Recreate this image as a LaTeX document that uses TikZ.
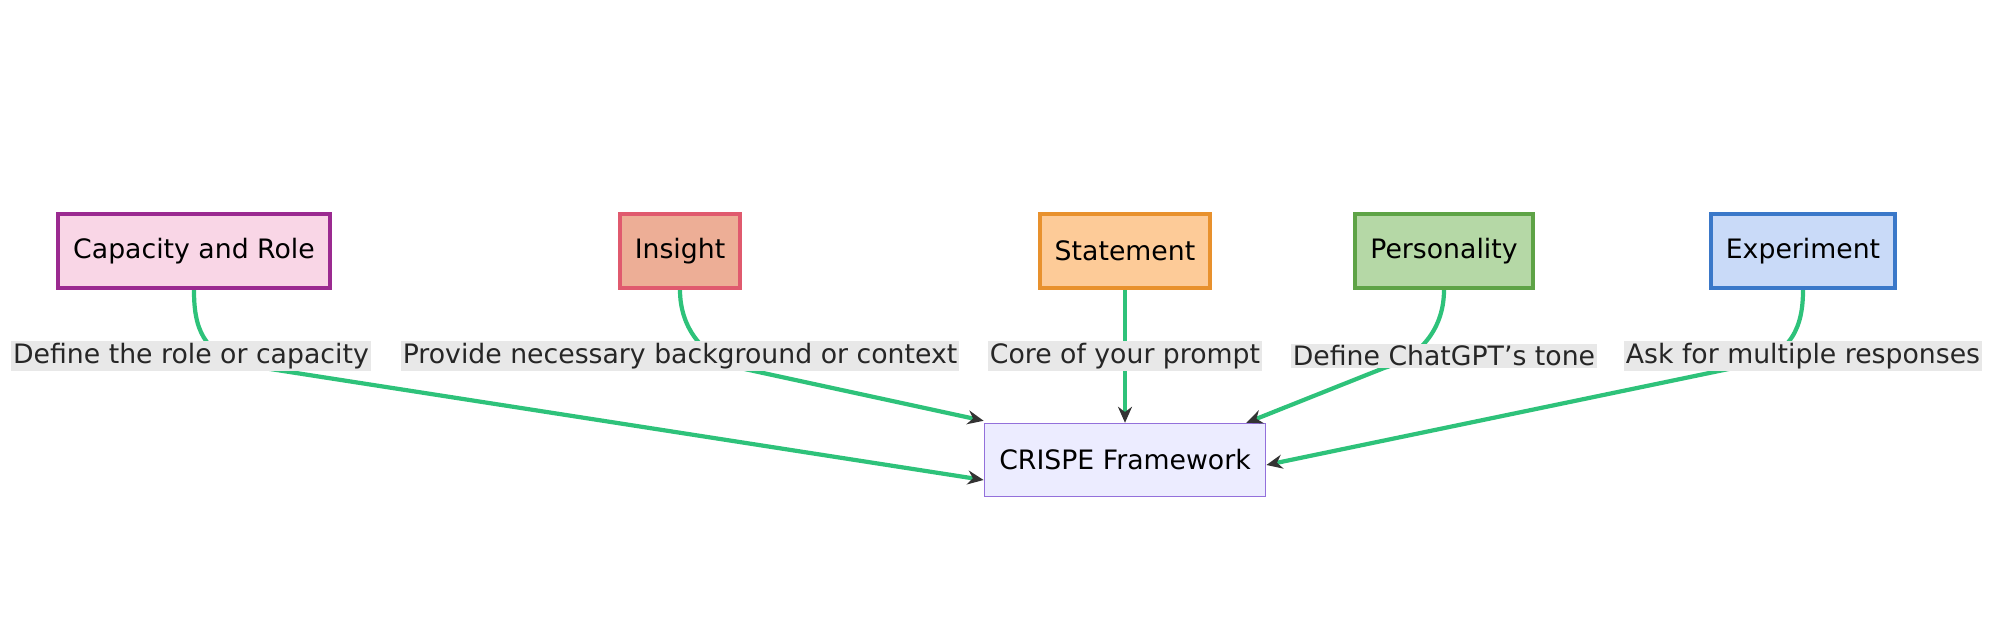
\documentclass[tikz,border=0pt]{standalone}
\usepackage{fontspec}
\setmainfont{DejaVu Sans}
\usetikzlibrary{shapes, arrows.meta, positioning, calc}
\definecolor{capfill}{HTML}{F9D6E6}
\definecolor{capdraw}{HTML}{9B2A90}
\definecolor{insfill}{HTML}{EDAE96}
\definecolor{insdraw}{HTML}{E05A6E}
\definecolor{stafill}{HTML}{FDCB98}
\definecolor{stadraw}{HTML}{E8912D}
\definecolor{perfill}{HTML}{B5D8A6}
\definecolor{perdraw}{HTML}{5EA346}
\definecolor{expfill}{HTML}{C9DAF8}
\definecolor{expdraw}{HTML}{3A78C9}
\definecolor{crifill}{HTML}{ECECFF}
\definecolor{cridraw}{HTML}{9370DB}
\definecolor{edgegreen}{HTML}{2EC27A}
\definecolor{labelgray}{HTML}{E8E8E8}

\begin{document}
\begin{tikzpicture}
  [
    font=\fontsize{7.6}{9}\selectfont,
    Box/.style={rectangle, very thick, minimum height=0.74cm, inner xsep=0.15cm},
    Label/.style={fill=labelgray, inner sep=0.5pt, text=black!85},
    Edge/.style={draw=edgegreen, very thick, -{Stealth[length=1.6mm, width=1.4mm, color=black!80]}}
  ]
  \useasboundingbox (0,0) rectangle (20,6.24);
  % Nodes (x, y)
  \node[Box, fill=capfill, draw=capdraw, minimum width=2.66cm] (cap) at(1.94, 3.73) {Capacity and Role};
  \node[Box, fill=insfill, draw=insdraw, minimum width=1.17cm] (ins) at(6.80, 3.73) {Insight};
  \node[Box, fill=stafill, draw=stadraw, minimum width=1.66cm] (sta) at(11.25, 3.73) {Statement};
  \node[Box, fill=perfill, draw=perdraw, minimum width=1.75cm] (per) at(14.44, 3.73) {Personality};
  \node[Box, fill=expfill, draw=expdraw, minimum width=1.82cm] (exp) at(18.03, 3.73) {Experiment};
  \node[Box, fill=crifill, draw=cridraw, thin, minimum width=2.74cm, minimum height=0.73cm] (cri) at(11.25, 1.64) {CRISPE Framework};

  % Label points
  \coordinate (l1) at(1.91, 2.68);
  \coordinate (l2) at(6.80, 2.68);
  \coordinate (l3) at(11.25, 2.68);
  \coordinate (l4) at(14.44, 2.68);
  \coordinate (l5) at(18.03, 2.68);

  % Lines
  % capacity -> crispe
  \path[Edge] (cap.south) .. controls +(0,-0.35) and +(-0.5,0.1) .. ($(l1)+(0.6,-0.1)$) -- ([yshift=-0.2cm]cri.west);
  % insight -> crispe
  \path[Edge] (ins.south) .. controls +(0,-0.35) and +(-0.4,0.12) .. ($(l2)+(0.6,-0.12)$) -- ([yshift=0.02cm]cri.north west);
  % statement -> crispe
  \path[Edge] (sta.south) -- (cri.north);
  % personality -> crispe
  \path[Edge] (per.south) .. controls +(0,-0.35) and +(0.4,0.12) .. ($(l4)+(-0.6,-0.12)$) -- ([xshift=-0.2cm]cri.north east);
  % experiment -> crispe
  \path[Edge] (exp.south) .. controls +(0,-0.35) and +(0.5,0.1) .. ($(l5)+(-0.6,-0.1)$) -- ([yshift=-0.05cm]cri.east);

  % Edge labels
  \node[Label] (t1) at(l1) {Define the role or capacity};
  \node[Label] (t2) at(l2) {Provide necessary background or context};
  \node[Label] (t3) at(l3) {Core of your prompt};
  \node[Label] (t4) at(l4) {Define ChatGPT's tone};
  \node[Label] (t5) at(l5) {Ask for multiple responses};
\end{tikzpicture}
\end{document}
